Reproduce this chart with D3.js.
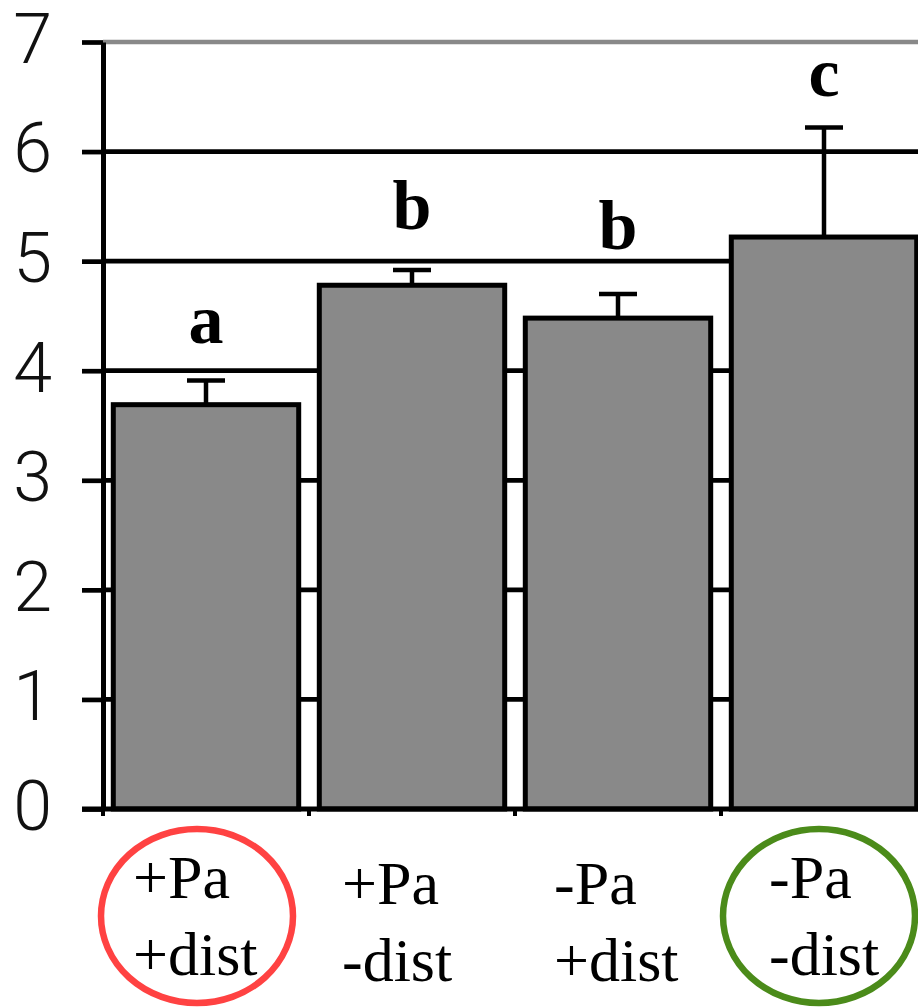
<!DOCTYPE html>
<html>
<head>
<meta charset="utf-8">
<script src="https://cdn.jsdelivr.net/npm/d3@7"></script>
<style>
  body { margin: 0; background: #fff; }
  svg { display: block; }
</style>
</head>
<body>
<div id="main"></div>
<script>
// data
var groups = ["+Pa +dist", "+Pa -dist", "-Pa +dist", "-Pa -dist"]
var pa = ["+Pa", "+Pa", "-Pa", "-Pa"]
var dist = ["+dist", "-dist", "+dist", "-dist"]
var means = [3.69, 4.78, 4.48, 5.22]
var errTop = [3.91, 4.92, 4.70, 6.22]
var letters = ["a", "b", "b", "c"]
var letterAt = [4.25, 5.29, 5.11, 6.51]
var yTicks = [0, 1, 2, 3, 4, 5, 6, 7]
var circled = [true, false, false, true]
var circleColors = ["#ff4242", null, null, "#4b8b1a"]

var dimensions = {
  width: 918,
  height: 1008,
  axisX: 103,
  plotRight: 927,
  top: 42,
  bottom: 809
}

// small layout nudges for the two-line labels and the rings
var labelDx = [-73, -70, -64, -55]
var labelDy = [0, 6, 6, 0]
var ringDx = [-9, 0, 0, -5]

var SVG = d3.select("#main")
            .append("svg")
            .attr("width", dimensions.width)
            .attr("height", dimensions.height)

var x = d3.scaleBand()
          .domain(groups)
          .range([dimensions.axisX, dimensions.plotRight])
          .paddingInner(0.1)
          .paddingOuter(0.05)

var y = d3.scaleLinear()
          .domain([0, 7])
          .range([dimensions.bottom, dimensions.top])

// gridlines (behind the bars)
SVG.append("g")
   .selectAll("line")
   .data(yTicks.filter(function(d){ return d > 0 }))
   .enter()
   .append("line")
   .attr("x1", dimensions.axisX)
   .attr("x2", dimensions.width)
   .attr("y1", function(d){ return y(d) })
   .attr("y2", function(d){ return y(d) })
   .attr("stroke", function(d){ return d == 7 ? "#898989" : "#000" })
   .attr("stroke-width", 4.7)

// bars
SVG.append("g")
   .selectAll("rect")
   .data(groups)
   .enter()
   .append("rect")
   .attr("x", function(d){ return x(d) })
   .attr("y", function(d, i){ return y(means[i]) })
   .attr("width", x.bandwidth())
   .attr("height", function(d, i){ return y(0) - y(means[i]) })
   .attr("fill", "#898989")
   .attr("stroke", "#000")
   .attr("stroke-width", 5)

// error bars
var err = SVG.append("g")
err.selectAll(".stem")
   .data(groups)
   .enter()
   .append("line")
   .attr("class", "stem")
   .attr("x1", function(d){ return x(d) + x.bandwidth() / 2 })
   .attr("x2", function(d){ return x(d) + x.bandwidth() / 2 })
   .attr("y1", function(d, i){ return y(means[i]) })
   .attr("y2", function(d, i){ return y(errTop[i]) })
   .attr("stroke", "#000")
   .attr("stroke-width", 4.5)
err.selectAll(".cap")
   .data(groups)
   .enter()
   .append("line")
   .attr("class", "cap")
   .attr("x1", function(d){ return x(d) + x.bandwidth() / 2 - 19 })
   .attr("x2", function(d){ return x(d) + x.bandwidth() / 2 + 19 })
   .attr("y1", function(d, i){ return y(errTop[i]) })
   .attr("y2", function(d, i){ return y(errTop[i]) })
   .attr("stroke", "#000")
   .attr("stroke-width", 4.5)

// y axis
var yAxis = SVG.append("g")
               .attr("transform", "translate(" + dimensions.axisX + ",0)")
               .call(d3.axisLeft(y)
                       .tickValues(yTicks)
                       .tickFormat(d3.format("d"))
                       .tickSize(21)
                       .tickSizeOuter(0)
                       .tickPadding(30))
yAxis.select(".domain").attr("stroke-width", 5)
yAxis.selectAll(".tick line").attr("stroke-width", 4.7)
yAxis.selectAll(".tick text")
     .attr("dy", "0.29em")
     .style("font-family", "Roboto, 'Liberation Sans', sans-serif")
     .style("font-weight", 300)
     .style("font-size", "70px")
     .attr("fill", "#111")

// x axis
SVG.append("line")
   .attr("x1", dimensions.axisX - 21)
   .attr("x2", dimensions.width)
   .attr("y1", y(0))
   .attr("y2", y(0))
   .attr("stroke", "#000")
   .attr("stroke-width", 5)
SVG.append("g")
   .selectAll("line")
   .data(groups)
   .enter()
   .append("line")
   .attr("x1", function(d){ return x(d) - (x.step() - x.bandwidth()) / 2 })
   .attr("x2", function(d){ return x(d) - (x.step() - x.bandwidth()) / 2 })
   .attr("y1", y(0))
   .attr("y2", y(0) + 7)
   .attr("stroke", "#000")
   .attr("stroke-width", 4)

// significance letters
SVG.append("g")
   .selectAll("text")
   .data(groups)
   .enter()
   .append("text")
   .attr("x", function(d){ return x(d) + x.bandwidth() / 2 })
   .attr("y", function(d, i){ return y(letterAt[i]) })
   .attr("text-anchor", "middle")
   .style("font-family", "'Liberation Serif', 'Times New Roman', serif")
   .style("font-weight", "bold")
   .style("font-size", "70px")
   .text(function(d, i){ return letters[i] })

// category labels
var labels = SVG.append("g")
                .selectAll("text")
                .data(groups)
                .enter()
                .append("text")
                .attr("x", function(d, i){ return x(d) + x.bandwidth() / 2 + labelDx[i] })
                .attr("y", function(d, i){ return 898 + labelDy[i] })
                .style("font-family", "'Liberation Serif', 'Times New Roman', serif")
                .style("font-size", "62px")
labels.append("tspan").text(function(d, i){ return pa[i] })
labels.append("tspan")
      .attr("x", function(d, i){ return x(d) + x.bandwidth() / 2 + labelDx[i] })
      .attr("dy", 77)
      .text(function(d, i){ return dist[i] })

// rings round the extreme treatments
SVG.append("g")
   .selectAll("ellipse")
   .data(groups.filter(function(d, i){ return circled[i] }))
   .enter()
   .append("ellipse")
   .attr("cx", function(d){ var i = groups.indexOf(d); return x(d) + x.bandwidth() / 2 + ringDx[i] })
   .attr("cy", 916)
   .attr("rx", 96)
   .attr("ry", 87)
   .attr("fill", "none")
   .attr("stroke", function(d){ return circleColors[groups.indexOf(d)] })
   .attr("stroke-width", 6.5)
</script>
</body>
</html>
